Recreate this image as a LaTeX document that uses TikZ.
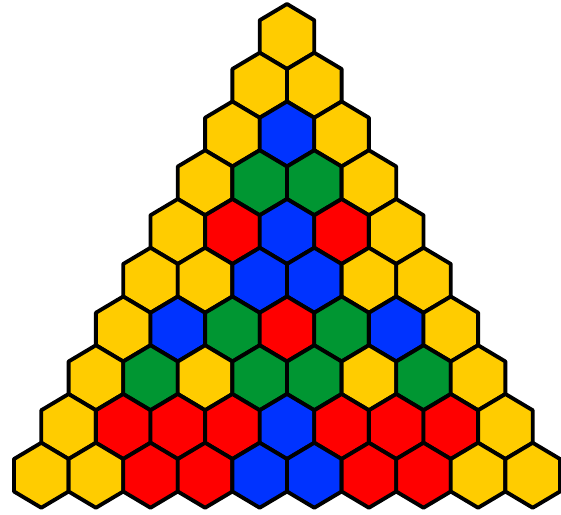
\documentclass[tikz,border=0pt]{standalone}
\usepackage{tikz}
\definecolor{mod0}{RGB}{255,0,0}
\definecolor{mod1}{RGB}{255,204,0}
\definecolor{mod2}{RGB}{0,51,255}
\definecolor{mod3}{RGB}{0,150,50}
\tikzset{hexline/.style={draw=black,line width=2.2pt,line join=round}}

\begin{document}
\begin{tikzpicture}[x=0.02cm,y=-0.02cm]
        \useasboundingbox (0,0) rectangle (561,514);
        % Pascal rows, entries mod 4
        \foreach \r/\vals in {0/{1},1/{1,1},2/{1,2,1},3/{1,3,3,1},4/{1,0,2,0,1},5/{1,1,2,2,1,1},6/{1,2,3,0,3,2,1},7/{1,3,1,3,3,1,3,1},8/{1,0,0,0,2,0,0,0,1},9/{1,1,0,0,2,2,0,0,1,1}}{
          \foreach \v [count=\k from 0] in \vals {
            \draw[hexline,fill=mod\v] ({287+(\k-\r/2)*54.6},{36.5+\r*48.75})
              +(0,-32.5) -- +(27.3,-16.25) -- +(27.3,16.25) -- +(0,32.5)
              -- +(-27.3,16.25) -- +(-27.3,-16.25) -- cycle;
          }
        }
      \end{tikzpicture}
\end{document}
